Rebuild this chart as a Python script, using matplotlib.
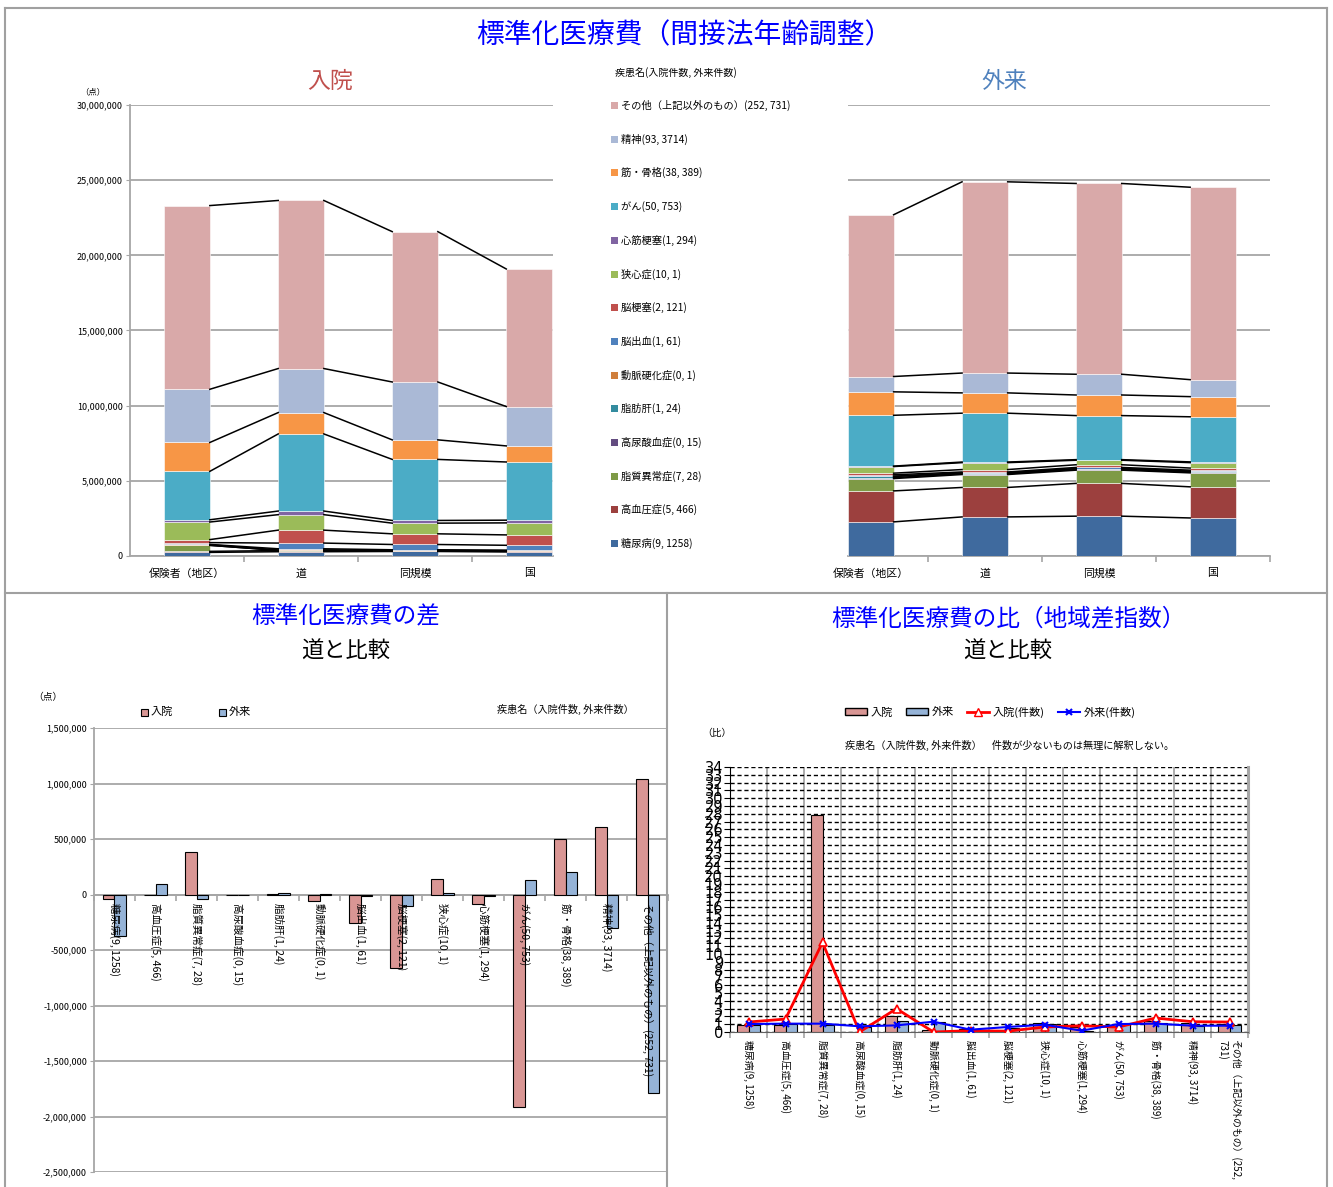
import matplotlib
matplotlib.use('Agg')
import matplotlib.pyplot as plt
import numpy as np
from matplotlib.ticker import FuncFormatter, FixedLocator
from matplotlib.lines import Line2D
from matplotlib.patches import Patch, Rectangle

plt.rcParams['font.family'] = ['Noto Sans CJK JP', 'DejaVu Sans']

# ---------------- data ----------------
diseases = ['糖尿病(9, 1258)', '高血圧症(5, 466)', '脂質異常症(7, 28)', '高尿酸血症(0, 15)',
            '脂肪肝(1, 24)', '動脈硬化症(0, 1)', '脳出血(1, 61)', '脳梗塞(2, 121)',
            '狭心症(10, 1)', '心筋梗塞(1, 294)', 'がん(50, 753)', '筋・骨格(38, 389)',
            '精神(93, 3714)', 'その他（上記以外のもの）(252, 731)']
diseases_ratio = diseases[:-1] + ['その他（上記以外のもの）(252,\n731)']
regions = ['保険者（地区）', '道', '同規模', '国']
colors = ['#3F6A9E', '#9C403E', '#7E9A46', '#634C80', '#338C9F', '#D07F3C', '#4F81BD',
          '#C0504D', '#9BBB59', '#8064A2', '#4BACC6', '#F79646', '#AAB9D6', '#D9A9A9']

# inpatient standardized cost (million points), bottom -> top
in_hoken = [0.24, 0.07, 0.40, 0.0, 0.04, 0.02, 0.12, 0.20, 1.17, 0.15, 3.22, 1.92, 3.54, 12.22]
in_dou = [0.285, 0.075, 0.014, 0.004, 0.019, 0.083, 0.38, 0.86, 1.03, 0.24, 5.13, 1.42, 2.93, 11.18]
in_doukibo = [0.30, 0.03, 0.012, 0.003, 0.02, 0.05, 0.35, 0.71, 0.71, 0.18, 4.06, 1.30, 3.85, 10.0]
in_kuni = [0.27, 0.04, 0.015, 0.003, 0.015, 0.05, 0.32, 0.69, 0.80, 0.18, 3.87, 1.07, 2.62, 9.15]
# outpatient standardized cost (million points)
out_hoken = [2.27, 2.06, 0.82, 0.06, 0.08, 0.02, 0.09, 0.11, 0.44, 0.03, 3.38, 1.56, 1.02, 10.76]
out_dou = [2.60, 1.96, 0.86, 0.05, 0.05, 0.01, 0.06, 0.16, 0.46, 0.04, 3.25, 1.35, 1.32, 12.72]
out_doukibo = [2.65, 2.18, 0.88, 0.05, 0.05, 0.01, 0.07, 0.18, 0.30, 0.04, 2.93, 1.37, 1.38, 12.69]
out_kuni = [2.53, 2.07, 0.93, 0.05, 0.05, 0.02, 0.06, 0.14, 0.36, 0.05, 3.00, 1.34, 1.13, 12.80]

# difference vs 道 (points)
diff_in = [-45000, -5000, 387000, -3000, 5000, -63000, -260000, -660000, 144000, -90000,
           -1910000, 504000, 609000, 1044000]
diff_out = [-370000, 96000, -39000, -5000, 12000, 3000, -12000, -108000, 10000, -15000,
            129000, 207000, -303000, -1790000]

# ratio vs 道
ratio_in = [0.85, 0.95, 27.8, 0.0, 2.1, 0.25, 0.33, 0.24, 1.12, 0.62, 0.63, 1.35, 1.21, 1.09]
ratio_out = [0.87, 1.05, 0.95, 0.7, 1.4, 1.3, 0.15, 0.55, 1.05, 0.15, 1.04, 1.16, 0.78, 0.86]
ratio_in_cnt = [1.28, 1.66, 11.5, 0.0, 2.99, 0.0, 0.17, 0.1, 0.64, 0.8, 0.64, 1.79, 1.32, 1.28]
ratio_out_cnt = [1.02, 1.07, 1.07, 0.73, 0.85, 1.32, 0.3, 0.64, 0.94, 0.17, 1.02, 1.07, 0.81, 0.81]

# ---------------- figure ----------------
W, H = 1333, 1187
fig = plt.figure(figsize=(W / 100, H / 100), dpi=100)


def box(l, t, r, b):
    return [l / W, 1 - b / H, (r - l) / W, (b - t) / H]


def ftext(x, y, s, **kw):
    return fig.text(x / W, 1 - y / H, s, **kw)


def fline(x0, y0, x1, y1, **kw):
    fig.add_artist(Line2D([x0 / W, x1 / W], [1 - y0 / H, 1 - y1 / H], transform=fig.transFigure, **kw))


GRID = '#A6A6A6'
# panel frames
fkw = dict(color='#A0A0A0', lw=1.5)
fline(5, 8, 1327, 8, **fkw)
fline(5, 8, 5, 1187, **fkw)
fline(1327, 8, 1327, 1187, **fkw)
fline(5, 593, 1327, 593, **fkw)
fline(667, 593, 667, 1187, **fkw)

comma = FuncFormatter(lambda v, p: f'{int(round(v)):,}')


def stacked(ax, data, xlim, show_y):
    arr = np.array(data).T * 1e6
    x = np.arange(len(regions))
    bottom = np.zeros(len(regions))
    for k in range(arr.shape[0]):
        ax.bar(x, arr[k], 0.4, bottom=bottom, color=colors[k], edgecolor='white',
               linewidth=0.4, zorder=3)
        top = bottom + arr[k]
        for i in range(len(regions) - 1):
            ax.plot([i + 0.2, i + 0.8], [top[i], top[i + 1]], color='black', lw=1.1, zorder=4)
        bottom = top
    ax.set_xlim(*xlim)
    ax.set_ylim(0, 30e6)
    ax.set_yticks(np.arange(0, 30e6 + 1, 5e6))
    ax.yaxis.set_major_formatter(comma)
    ax.grid(axis='y', color=GRID, lw=1.3, zorder=0)
    ax.set_axisbelow(True)
    for s in ['top', 'right']:
        ax.spines[s].set_visible(False)
    ax.spines['bottom'].set_color(GRID)
    ax.spines['bottom'].set_linewidth(1.3)
    ax.spines['left'].set_color(GRID)
    ax.spines['left'].set_linewidth(1.3)
    if not show_y:
        ax.spines['left'].set_visible(False)
        ax.tick_params(axis='y', left=False, labelleft=False)
    else:
        ax.tick_params(axis='y', labelsize=6.5, length=3, color=GRID, pad=2)
    ax.xaxis.set_major_locator(FixedLocator([b for b in [0.5, 1.5, 2.5, 3.5] if b <= xlim[1]]))
    ax.xaxis.set_major_formatter(FuncFormatter(lambda v, p: ''))
    ax.xaxis.set_minor_locator(FixedLocator(x))
    ax.set_xticklabels(regions, minor=True)
    ax.tick_params(axis='x', which='major', length=4, color=GRID, width=1.2)
    ax.tick_params(axis='x', which='minor', length=0, labelsize=7.8, pad=9)


ax1 = fig.add_axes(box(130, 105, 553, 556))
stacked(ax1, [in_hoken, in_dou, in_doukibo, in_kuni], (-0.5, 3.21), True)
ax2 = fig.add_axes(box(848, 105, 1270, 556))
stacked(ax2, [out_hoken, out_dou, out_doukibo, out_kuni], (-0.2, 3.5), False)

ftext(684, 35, '標準化医療費（間接法年齢調整）', color='#0000FF', fontsize=20, ha='center', va='center')
ftext(330, 81, '入院', color='#C0504D', fontsize=16.5, ha='center', va='center')
ftext(1004, 81, '外来', color='#4F81BD', fontsize=16.5, ha='center', va='center')
ftext(93, 92, '（点）', fontsize=6, ha='center', va='center')

# legend of top panel
ftext(615, 73, '疾患名(入院件数, 外来件数)', fontsize=7.2, ha='left', va='center')
for k, lab in enumerate(reversed(diseases)):
    y = 105.5 + k * 33.7
    col = colors[len(diseases) - 1 - k]
    fig.add_artist(Rectangle((611 / W, 1 - (y + 3.5) / H), 6.5 / W, 7 / H,
                             transform=fig.transFigure, facecolor=col, edgecolor='none'))
    ftext(621, y, lab, fontsize=7.4, ha='left', va='center')

# ---------------- bottom left: difference ----------------
ax3 = fig.add_axes(box(94, 728, 668, 1172))
xi = np.arange(len(diseases))
ax3.bar(xi - 0.145, diff_in, 0.29, color='#D99694', edgecolor='black', lw=0.8, zorder=3)
ax3.bar(xi + 0.145, diff_out, 0.29, color='#95B3D7', edgecolor='black', lw=0.8, zorder=3)
ax3.set_xlim(-0.5, 13.5)
ax3.set_ylim(-2.5e6, 1.5e6)
ax3.set_yticks(np.arange(-2.5e6, 1.5e6 + 1, 5e5))
ax3.yaxis.set_major_formatter(comma)
ax3.grid(axis='y', color=GRID, lw=1.3, zorder=0)
ax3.set_axisbelow(True)
for s in ['top', 'right']:
    ax3.spines[s].set_visible(False)
ax3.spines['left'].set_color(GRID)
ax3.spines['left'].set_linewidth(1.3)
ax3.spines['bottom'].set_position(('data', 0))
ax3.spines['bottom'].set_color(GRID)
ax3.spines['bottom'].set_linewidth(1.3)
ax3.xaxis.set_major_locator(FixedLocator(np.arange(-0.5, 13.6, 1)))
ax3.xaxis.set_major_formatter(FuncFormatter(lambda v, p: ''))
ax3.tick_params(axis='x', length=4, color=GRID, width=1.2)
ax3.tick_params(axis='y', labelsize=6.5, length=3, color=GRID, pad=2)
for i, lab in enumerate(diseases):
    ax3.annotate(lab, xy=(i, 0), xytext=(0, -6), textcoords='offset points', rotation=-90,
                 ha='center', va='top', fontsize=7.6, zorder=6)

ftext(346, 617, '標準化医療費の差', color='#0000FF', fontsize=17, ha='center', va='center')
ftext(346, 651, '道と比較', color='black', fontsize=16, ha='center', va='center')
ftext(48, 697, '（点）', fontsize=7, ha='center', va='center')
ftext(565, 709, '疾患名（入院件数, 外来件数）', fontsize=7.3, ha='center', va='center')
for (x0, col, lab) in [(141, '#D99694', '入院'), (219, '#95B3D7', '外来')]:
    fig.add_artist(Rectangle((x0 / W, 1 - 716 / H), 7 / W, 7 / H, transform=fig.transFigure,
                             facecolor=col, edgecolor='black', lw=0.8))
    ftext(x0 + 10, 712, lab, fontsize=8, ha='left', va='center')

# ---------------- bottom right: ratio ----------------
ax4 = fig.add_axes(box(730, 767, 1248, 1032))
ax4.bar(xi - 0.15, ratio_in, 0.3, color='#D99694', edgecolor='black', lw=0.8, zorder=3)
ax4.bar(xi + 0.15, ratio_out, 0.3, color='#95B3D7', edgecolor='black', lw=0.8, zorder=3)
ax4.plot(xi, ratio_in_cnt, color='#FF0000', lw=2, marker='^', ms=6, mfc='white',
         mec='#FF0000', mew=1.2, zorder=5)
ax4.plot(xi, ratio_out_cnt, color='#0000FF', lw=1.5, marker='x', ms=5, mew=1.5, zorder=5)
ax4.set_xlim(-0.5, 13.5)
ax4.set_ylim(0, 34)
ax4.set_yticks(np.arange(0, 35, 1))
ax4.grid(axis='y', color='black', lw=1, ls=(0, (3, 2)), zorder=1)
ax4.xaxis.set_major_locator(FixedLocator(np.arange(-0.5, 13.6, 1)))
ax4.xaxis.set_major_formatter(FuncFormatter(lambda v, p: ''))
ax4.grid(axis='x', color=GRID, lw=1.3, zorder=0)
ax4.set_axisbelow(True)
ax4.spines['top'].set_visible(False)
ax4.spines['right'].set_color(GRID)
ax4.spines['right'].set_linewidth(2.2)
ax4.spines['left'].set_color('black')
ax4.spines['bottom'].set_color('#606060')
ax4.tick_params(axis='x', length=4, color=GRID, width=1.2)
ax4.tick_params(axis='y', length=4, color='black', pad=1)
for t in ax4.get_yticklabels():
    t.set_fontfamily(['Liberation Sans Narrow', 'DejaVu Sans'])
    t.set_fontsize(10.5)
for i, lab in enumerate(diseases_ratio):
    ax4.annotate(lab, xy=(i, 0), xytext=(0, -6), textcoords='offset points', rotation=-90,
                 ha='center', va='top', fontsize=7.1, multialignment='left')

ftext(1008, 619, '標準化医療費の比（地域差指数）', color='#0000FF', fontsize=17, ha='center', va='center')
ftext(1008, 651, '道と比較', color='black', fontsize=16, ha='center', va='center')
ftext(717, 733, '（比）', fontsize=7, ha='center', va='center')
ftext(1010, 745, '疾患名（入院件数, 外来件数）　件数が少ないものは無理に解釈しない。', fontsize=7.3,
      ha='center', va='center')
handles = [Patch(facecolor='#D99694', edgecolor='black'),
           Patch(facecolor='#95B3D7', edgecolor='black'),
           Line2D([], [], color='#FF0000', lw=2, marker='^', ms=6, mfc='white', mec='#FF0000'),
           Line2D([], [], color='#0000FF', lw=1.5, marker='x', ms=5, mew=1.5)]
fig.legend(handles, ['入院', '外来', '入院(件数)', '外来(件数)'], loc='center',
           bbox_to_anchor=(990 / W, 1 - 712 / H), ncol=4, frameon=False, fontsize=8,
           handlelength=2.0, handleheight=0.7, columnspacing=1.2, handletextpad=0.3)

fig.savefig('out.png', dpi=100)
